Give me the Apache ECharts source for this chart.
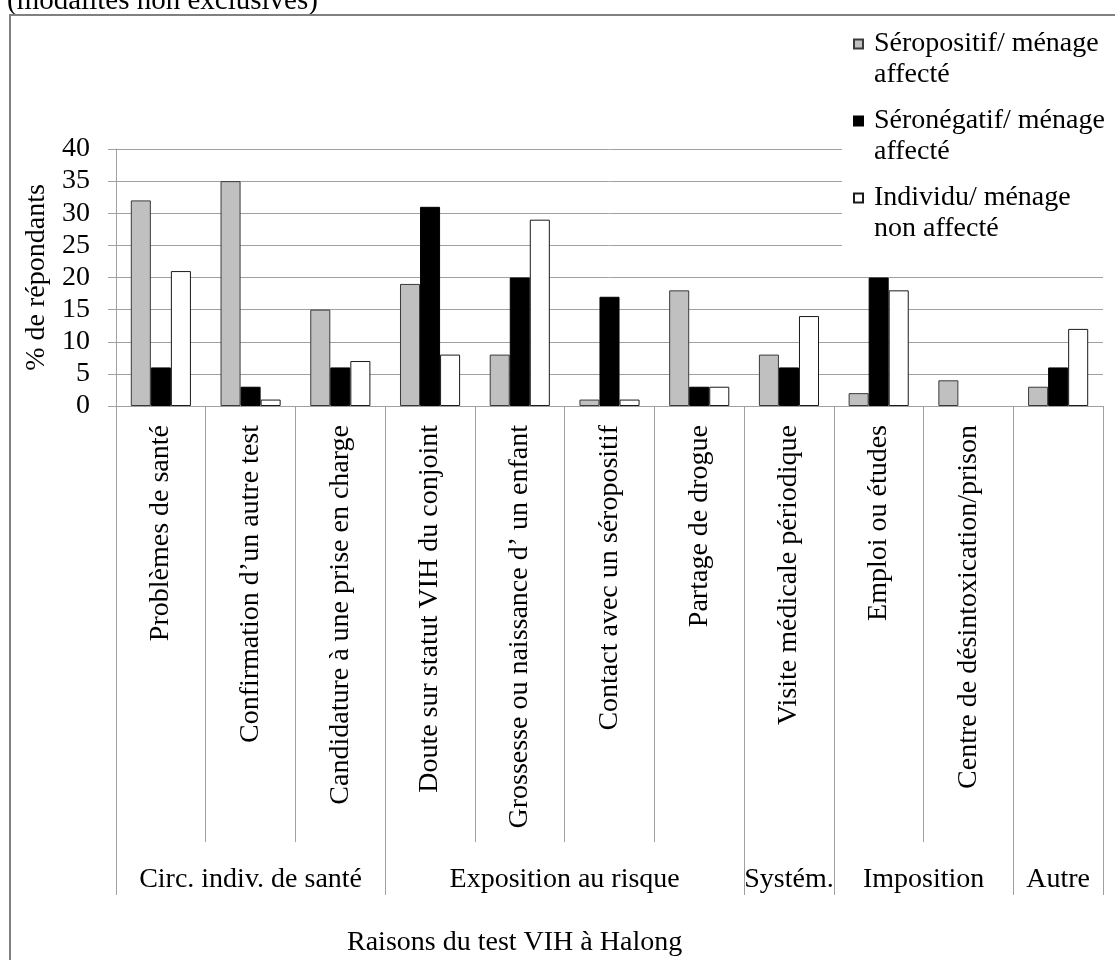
<!DOCTYPE html>
<html>
<head>
<meta charset="utf-8">
<script src="https://cdn.jsdelivr.net/npm/echarts@6/dist/echarts.min.js"></script>
<style>
html,body{margin:0;padding:0;background:#fff;}
#chart{width:1115px;height:960px;}
</style>
</head>
<body>
<div id="chart"></div>
<script>
// ---- data ----
const categories = [
  'Problèmes de santé',
  'Confirmation d’un autre test',
  'Candidature à une prise en charge',
  'Doute sur statut VIH du conjoint',
  'Grossesse ou naissance d’ un enfant',
  'Contact avec un séropositif',
  'Partage de drogue',
  'Visite médicale périodique',
  'Emploi ou études',
  'Centre de désintoxication/prison',
  'Autre'
];
const groupNames = ['Circ. indiv. de santé', 'Exposition au risque', 'Systém.', 'Imposition', 'Autre'];
const groupSizes = [3, 4, 1, 2, 1];
const seriesNames = ['Séropositif/ ménage\naffecté', 'Séronégatif/ ménage\naffecté', 'Individu/ ménage\nnon affecté'];
const seropositif = [32, 35, 15, 19, 8, 1, 18, 8, 2, 4, 3];
const seronegatif = [6, 3, 6, 31, 20, 17, 3, 6, 20, 0, 6];
const nonAffecte  = [21, 1, 7, 8, 29, 1, 3, 14, 18, 0, 12];
const yTicks = [0, 5, 10, 15, 20, 25, 30, 35, 40];

// ---- build group axis (half-category points) ----
const halfCount = categories.length * 2 + 1;
const groupAxisData = new Array(halfCount).fill('');
const groupBounds = new Set([0]);
const groupCenters = new Set();
let s = 0;
groupSizes.forEach((n, i) => {
  const c = s + n;           // center in half units
  groupAxisData[c] = groupNames[i];
  groupCenters.add(c);
  s += 2 * n;
  groupBounds.add(s);
});
// the single "Autre" category carries no rotated label (only its group label)
const hiddenCatLabels = new Set(['Autre']);
// zero values: no visible bar outline
const toData = (arr) => arr.map(v => v === 0 ? {value: v, itemStyle: {borderWidth: 0}} : v);

const FONT = 'Liberation Serif';
const GRID = '#a0a0a0';
const chart = echarts.init(document.getElementById('chart'), null, {renderer: 'canvas'});
const option = {
  animation: false,
  textStyle: {fontFamily: FONT, color: '#000'},
  title: [
    {text: '(modalités non exclusives)', left: 2, top: -18, padding: 5,
     textStyle: {fontFamily: FONT, fontSize: 29, fontWeight: 'normal', color: '#000'}},
    {text: 'Raisons du test VIH à Halong', left: 342, top: 924, padding: 5,
     textStyle: {fontFamily: FONT, fontSize: 28, fontWeight: 'normal', color: '#000'}}
  ],
  graphic: [{
    type: 'rect', silent: true, z: 100,
    shape: {x: 10, y: 15, width: 1130, height: 970},
    style: {fill: 'none', stroke: '#808080', lineWidth: 2}
  }],
  legend: {
    orient: 'vertical',
    left: 842, top: -7.5,
    padding: [5, 0, 12, 11],
    backgroundColor: '#fff',
    itemWidth: 9, itemHeight: 9, itemGap: -16,
    icon: 'rect',
    formatter: (name) => '\n' + name,
    textStyle: {fontFamily: FONT, fontSize: 28, lineHeight: 31, color: '#000', padding: [0, 0, 0, 6]},
    data: seriesNames
  },
  grid: {left: 116, right: 12, top: 149, bottom: 554, containLabel: false},
  xAxis: [
    {
      type: 'category', data: categories, position: 'bottom',
      axisLine: {show: true, lineStyle: {color: GRID, width: 1}},
      axisTick: {show: true, interval: 0, length: 436, lineStyle: {color: GRID, width: 1}},
      axisLabel: {interval: 0, rotate: 90, margin: 19, fontFamily: FONT, fontSize: 28, color: '#000',
        formatter: (v) => hiddenCatLabels.has(v) ? '' : v},
      splitLine: {show: false}
    },
    {
      type: 'category', data: groupAxisData, position: 'bottom', boundaryGap: false,
      axisLine: {show: false},
      axisTick: {show: true, interval: (i) => groupBounds.has(i), length: 489, lineStyle: {color: GRID, width: 1}},
      axisLabel: {interval: (i) => groupCenters.has(i), margin: 460, fontFamily: FONT, fontSize: 28, color: '#000'},
      splitLine: {show: false}
    }
  ],
  yAxis: {
    type: 'value', min: yTicks[0], max: yTicks[yTicks.length - 1], interval: 5,
    name: '% de répondants', nameLocation: 'middle', nameRotate: 90, nameGap: 62,
    nameTextStyle: {fontFamily: FONT, fontSize: 28, color: '#000'},
    axisLine: {show: true, lineStyle: {color: GRID, width: 1}},
    axisTick: {show: true, length: 8, lineStyle: {color: GRID}},
    axisLabel: {margin: 26, fontFamily: FONT, fontSize: 28, color: '#000'},
    splitLine: {show: true, lineStyle: {color: GRID, width: 1}}
  },
  series: [
    {name: seriesNames[0], type: 'bar', data: toData(seropositif), xAxisIndex: 0, barGap: '0%', barCategoryGap: '33%',
     itemStyle: {color: '#c0c0c0', borderColor: '#3a3a3a', borderWidth: 1}},
    {name: seriesNames[1], type: 'bar', data: toData(seronegatif), xAxisIndex: 0, barGap: '0%', barCategoryGap: '33%',
     itemStyle: {color: '#000000', borderColor: '#000000', borderWidth: 1}},
    {name: seriesNames[2], type: 'bar', data: toData(nonAffecte), xAxisIndex: 0, barGap: '0%', barCategoryGap: '33%',
     itemStyle: {color: '#ffffff', borderColor: '#1a1a1a', borderWidth: 1}}
  ]
};
chart.setOption(option);
</script>
</body>
</html>
